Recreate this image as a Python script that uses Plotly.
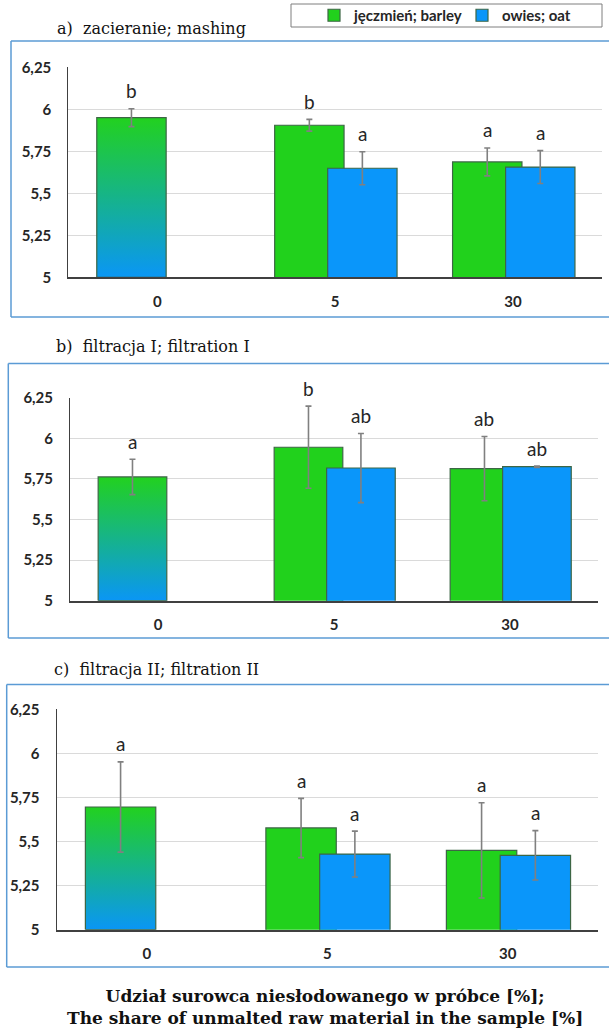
import plotly.graph_objects as go

W, H = 609, 1030

# ---------------- data ----------------
categories = ["0", "5", "30"]
y_ticks = [5, 5.25, 5.5, 5.75, 6, 6.25]
y_tick_text = ["5", "5,25", "5,5", "5,75", "6", "6,25"]
Y_MIN, Y_MAX = 5, 6.25

panel_titles = ["a)  zacieranie; mashing",
                "b)  filtracja I; filtration I",
                "c)  filtracja II; filtration II"]

# control (0 %) sample in each panel
control_mean = [5.950, 5.762, 5.696]
control_err = [0.053, 0.109, 0.256]
control_letter = ["b", "a", "a"]

# barley (5 %, 30 %)
barley_a = [5.905, 5.687]
barley_a_err = [0.035, 0.083]
barley_a_letters = ["b", "a"]
barley_b = [5.945, 5.813]
barley_b_err = [0.253, 0.198]
barley_b_letters = ["b", "ab"]
barley_c = [5.577, 5.450]
barley_c_err = [0.168, 0.270]
barley_c_letters = ["a", "a"]

# oat (5 %, 30 %)
oat_a = [5.649, 5.656]
oat_a_err = [0.098, 0.098]
oat_a_letters = ["a", "a"]
oat_b = [5.817, 5.825]
oat_b_err = [0.213, 0.004]
oat_b_letters = ["ab", "ab"]
oat_c = [5.429, 5.422]
oat_c_err = [0.130, 0.140]
oat_c_letters = ["a", "a"]

barley = [barley_a, barley_b, barley_c]
barley_err = [barley_a_err, barley_b_err, barley_c_err]
barley_letters = [barley_a_letters, barley_b_letters, barley_c_letters]
oat = [oat_a, oat_b, oat_c]
oat_err = [oat_a_err, oat_b_err, oat_c_err]
oat_letters = [oat_a_letters, oat_b_letters, oat_c_letters]

x_title = ("<b>Udział surowca niesłodowanego w próbce [%];</b><br>"
           "<b>The share of unmalted raw material in the sample [%]</b>")

# ---------------- style ----------------
GREEN = "#21D11C"
BLUE = "#0A96FA"
GRAD_TOP = "#22D11F"
GRAD_BOT = "#0A96F5"
OUTLINE = "#3D6645"
ERR = "#808080"
GRID = "#DADADA"
AXIS = "#404040"
FRAME = "#5B9BD5"
TXT = "#262626"
BAR_W = 0.39
OFF_G = -0.34
OFF_O = -0.042

# pixel layout of each panel
panels = [
    dict(x0=68.3, x1=602, top=67.3, bot=277.3, fl=11, ft=41, fb=317, tx=55, ty=28),
    dict(x0=70.0, x1=598, top=397.7, bot=600.7, fl=8.3, ft=363.5, fb=638, tx=54, ty=346),
    dict(x0=56.5, x1=598, top=709.3, bot=929.7, fl=6.7, ft=684.5, fb=967, tx=52, ty=669),
]


def px_x(p):
    return p / W


def px_y(p):
    return 1 - p / H


x_idx = list(range(len(categories)))

fig = go.Figure()
annotations = []
shapes = []

for i, p in enumerate(panels):
    sfx = "" if i == 0 else str(i + 1)
    xa, ya = "x" + sfx, "y" + sfx

    # barley bars
    fig.add_trace(go.Bar(
        x=x_idx[1:], y=barley[i], width=BAR_W, offset=OFF_G,
        marker=dict(color=GREEN, line=dict(color=OUTLINE, width=1.2)),
        error_y=dict(type="data", array=barley_err[i], color=ERR, thickness=1.6, width=3),
        name="jęczmień; barley", legendgroup="barley", showlegend=(i == 0),
        xaxis=xa, yaxis=ya, hoverinfo="skip"))
    # oat bars
    fig.add_trace(go.Bar(
        x=x_idx[1:], y=oat[i], width=BAR_W, offset=OFF_O,
        marker=dict(color=BLUE, line=dict(color=OUTLINE, width=1.2)),
        error_y=dict(type="data", array=oat_err[i], color=ERR, thickness=1.6, width=3),
        name="owies; oat", legendgroup="oat", showlegend=(i == 0),
        xaxis=xa, yaxis=ya, hoverinfo="skip"))

    # control bar with vertical gradient
    v = control_mean[i]
    xl = x_idx[0] + OFF_G
    xr = xl + BAR_W
    fig.add_trace(go.Scatter(
        x=[xl, xr, xr, xl, xl], y=[Y_MIN, Y_MIN, v, v, Y_MIN],
        mode="lines", fill="toself",
        fillgradient=dict(type="vertical", colorscale=[[0, GRAD_BOT], [1, GRAD_TOP]],
                          start=Y_MIN, stop=v),
        line=dict(color=OUTLINE, width=1.2),
        showlegend=False, hoverinfo="skip", xaxis=xa, yaxis=ya))
    fig.add_trace(go.Scatter(
        x=[xl + BAR_W / 2], y=[v], mode="markers",
        marker=dict(size=1, color="rgba(0,0,0,0)"),
        error_y=dict(type="data", array=[control_err[i]], color=ERR, thickness=1.6, width=3),
        showlegend=False, hoverinfo="skip", xaxis=xa, yaxis=ya))

    # significance letters
    letter_font = dict(family="Lato", size=19, color=TXT)
    annotations.append(dict(x=xl + BAR_W / 2, y=v + control_err[i], xref=xa, yref=ya,
                            text=control_letter[i], showarrow=False, yshift=18,
                            yanchor="middle", font=letter_font))
    for j, xi in enumerate(x_idx[1:]):
        annotations.append(dict(x=xi + OFF_G + BAR_W / 2, y=barley[i][j] + barley_err[i][j],
                                xref=xa, yref=ya, text=barley_letters[i][j], showarrow=False,
                                yshift=18, yanchor="middle", font=letter_font))
        annotations.append(dict(x=xi + OFF_O + BAR_W / 2, y=oat[i][j] + oat_err[i][j],
                                xref=xa, yref=ya, text=oat_letters[i][j], showarrow=False,
                                yshift=18, yanchor="middle", font=letter_font))

    # panel title
    annotations.append(dict(x=px_x(p["tx"]), y=px_y(p["ty"]), xref="paper", yref="paper",
                            text=panel_titles[i], showarrow=False, xanchor="left",
                            yanchor="middle",
                            font=dict(family="DejaVu Serif", size=16, color="#111111")))

    # chart-area frame (open on the right, as the chart area runs past the page edge)
    fx0, fy0, fy1 = px_x(p["fl"]), px_y(p["fb"]), px_y(p["ft"])
    for (ax0, ay0, ax1, ay1) in [(fx0, fy1, 1.0, fy1), (fx0, fy0, 1.0, fy0),
                                 (fx0, fy0, fx0, fy1)]:
        shapes.append(dict(type="line", xref="paper", yref="paper",
                           x0=ax0, y0=ay0, x1=ax1, y1=ay1,
                           line=dict(color=FRAME, width=1.5), layer="below"))

    fig.update_layout(**{
        "xaxis" + sfx: dict(domain=[px_x(p["x0"]), px_x(p["x1"])], range=[-0.5, 2.5],
                            tickvals=x_idx, ticktext=categories, showgrid=False,
                            zeroline=False, showline=True, linecolor=AXIS, linewidth=1.5,
                            ticks="", ticklabelstandoff=10, anchor=ya, automargin=False,
                            tickfont=dict(family="Lato", size=15, color=TXT, weight="bold"),
                            fixedrange=True),
        "yaxis" + sfx: dict(domain=[px_y(p["bot"]), px_y(p["top"])], range=[Y_MIN, Y_MAX],
                            tickvals=y_ticks, ticktext=y_tick_text, showgrid=True,
                            gridcolor=GRID, gridwidth=1, zeroline=False, showline=True,
                            linecolor=AXIS, linewidth=1, ticks="", ticklabelstandoff=13,
                            anchor=xa, automargin=False,
                            tickfont=dict(family="Lato", size=15, color=TXT, weight="bold"),
                            fixedrange=True),
    })

# legend frame
shapes.append(dict(type="rect", xref="paper", yref="paper",
                   x0=px_x(291), x1=px_x(602), y0=px_y(27), y1=px_y(4),
                   line=dict(color="#7F7F7F", width=1), fillcolor="white"))

# bottom axis title
annotations.append(dict(x=px_x(325), y=px_y(1007), xref="paper", yref="paper",
                        text=x_title, showarrow=False, xanchor="center", yanchor="middle",
                        align="center",
                        font=dict(family="DejaVu Serif", size=17, color="#111111")))

fig.update_layout(
    width=W, height=H, autosize=False,
    margin=dict(l=0, r=0, t=0, b=0, pad=0, autoexpand=False),
    paper_bgcolor="white", plot_bgcolor="white",
    barmode="overlay",
    showlegend=True,
    legend=dict(orientation="h", x=px_x(314), y=px_y(15.5), xanchor="left",
                yanchor="middle", bgcolor="rgba(0,0,0,0)", borderwidth=0,
                font=dict(family="Lato", size=15, color=TXT, weight="bold"),
                itemwidth=30, entrywidth=103, tracegroupgap=0),
    annotations=annotations,
    shapes=shapes,
)

fig.write_html("out.html",
               config={"displayModeBar": False},
               post_script="document.body.style.margin='0';")
